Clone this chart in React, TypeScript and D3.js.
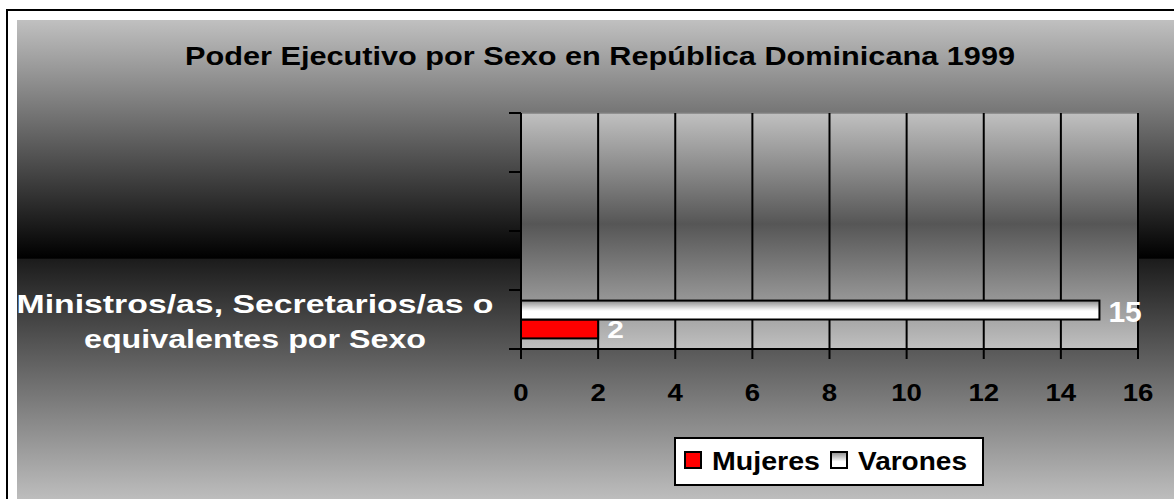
import React from "react";
import * as d3 from "d3";

const title = "Poder Ejecutivo por Sexo en República Dominicana 1999";
const categories = ["Ministros/as, Secretarios/as o equivalentes por Sexo", "c2", "c3", "c4"];
const categoryLabels = [["Ministros/as, Secretarios/as o", "equivalentes por Sexo"], [], [], []];
const seriesNames = ["Mujeres", "Varones"];
const mujeres = [2, null, null, null];
const varones = [15, null, null, null];
const xTicks = [0, 2, 4, 6, 8, 10, 12, 14, 16];

export default function App() {
  const W = 1174, H = 499;
  const plot = { left: 521, right: 1138, top: 113, bottom: 349 };
  const x = d3.scaleLinear().domain([0, 16]).range([plot.left, plot.right]);
  const y = d3.scaleBand<string>().domain([...categories].reverse()).range([plot.top, plot.bottom]);
  const inner = d3.scaleBand<string>().domain(["Varones", "Mujeres"]).range([0, y.bandwidth()]).paddingOuter(0.56).paddingInner(0);
  const font = "Arial, 'Liberation Sans', sans-serif";
  const series = [
    { name: "Mujeres", values: mujeres, fill: "#ff0000", labelSize: 23, sx: 1.3 },
    { name: "Varones", values: varones, fill: "url(#varGrad)", labelSize: 30, sx: 1.0 },
  ];
  const catWidths = [477, 342];
  return (
    <svg width={W} height={H} style={{ position: "absolute", left: 0, top: 0 }} fontFamily={font}>
      <defs>
        <linearGradient id="bgGrad" x1="0" y1="20" x2="0" y2="499" gradientUnits="userSpaceOnUse">
          <stop offset="0" stopColor="#c0c0c0" />
          <stop offset="0.497" stopColor="#000000" />
          <stop offset="0.5" stopColor="#1c1c1c" />
          <stop offset="1" stopColor="#bdbdbd" />
        </linearGradient>
        <linearGradient id="plotGrad" x1="0" y1={plot.top} x2="0" y2={plot.bottom} gradientUnits="userSpaceOnUse">
          <stop offset="0" stopColor="#c0c0c0" />
          <stop offset="0.47" stopColor="#565656" />
          <stop offset="1" stopColor="#c0c0c0" />
        </linearGradient>
        <linearGradient id="varGrad" x1="0" y1="0" x2="0" y2="1">
          <stop offset="0" stopColor="#8a8a8a" />
          <stop offset="0.55" stopColor="#ffffff" />
          <stop offset="1" stopColor="#ffffff" />
        </linearGradient>
        <linearGradient id="legGrad" x1="0" y1="0" x2="0" y2="1">
          <stop offset="0" stopColor="#8a8a8a" />
          <stop offset="0.6" stopColor="#ffffff" />
          <stop offset="1" stopColor="#ffffff" />
        </linearGradient>
      </defs>
      <rect x={0} y={0} width={W} height={H} fill="#ffffff" />
      <rect x={7} y={10} width={W + 20} height={H + 20} fill="none" stroke="#000" strokeWidth={2} />
      <rect x={17} y={20} width={W} height={H} fill="url(#bgGrad)" />
      <text x={185} y={56} dominantBaseline="central" fontSize={25} fontWeight="bold" fill="#000" textLength={830} lengthAdjust="spacingAndGlyphs">{title}</text>
      <rect x={plot.left} y={plot.top} width={plot.right - plot.left} height={plot.bottom - plot.top} fill="url(#plotGrad)" stroke="#808080" strokeWidth={1.5} />
      {xTicks.slice(1).map((t) => (
        <line key={"g" + t} x1={x(t)} x2={x(t)} y1={plot.top} y2={plot.bottom} stroke="#000" strokeWidth={2} />
      ))}
      {series.map((s) =>
        categories.map((c, i) => {
          const v = s.values[i];
          if (v == null) return null;
          const by = (y(c) as number) + (inner(s.name) as number);
          const bh = inner.bandwidth();
          const lx = x(v) + 9;
          const ly = by + bh / 2 + 1;
          return (
            <g key={s.name + i}>
              <rect x={x(0)} y={by} width={x(v) - x(0)} height={bh} fill={s.fill} stroke="#000" strokeWidth={2} />
              <text transform={`translate(${lx},${ly}) scale(${s.sx},1)`} dominantBaseline="central" fontSize={s.labelSize} fontWeight="bold" fill="#ffffff">{v}</text>
            </g>
          );
        })
      )}
      <line x1={plot.left} x2={plot.left} y1={plot.top} y2={plot.bottom} stroke="#000" strokeWidth={2} />
      {[plot.top, ...categories.map((c) => (y(c) as number) + y.bandwidth())].map((ty, i) => (
        <line key={"yt" + i} x1={plot.left - 12} x2={plot.left} y1={ty} y2={ty} stroke="#000" strokeWidth={2} />
      ))}
      {categories.map((c, i) => {
        const lines = categoryLabels[i];
        const cy = (y(c) as number) + y.bandwidth() / 2;
        return lines.map((l, j) => (
          <text key={"cl" + i + j} x={255 - catWidths[j] / 2} y={cy + (j - (lines.length - 1) / 2) * 35 + 2} dominantBaseline="central" fontSize={25} fontWeight="bold" fill="#ffffff" textLength={catWidths[j]} lengthAdjust="spacingAndGlyphs">{l}</text>
        ));
      })}
      <line x1={plot.left} x2={plot.right} y1={plot.bottom} y2={plot.bottom} stroke="#000" strokeWidth={2} />
      {xTicks.map((t) => (
        <g key={"xt" + t}>
          <line x1={x(t)} x2={x(t)} y1={plot.bottom} y2={plot.bottom + 10} stroke="#000" strokeWidth={2} />
          <text transform={`translate(${x(t)},393) scale(1.2,1)`} textAnchor="middle" dominantBaseline="central" fontSize={23} fontWeight="bold" fill="#000">{t}</text>
        </g>
      ))}
      <rect x={675} y={438} width={308} height={47} fill="#ffffff" stroke="#000" strokeWidth={2} />
      {seriesNames.map((n, i) => {
        const lx = [685, 831][i];
        const tw = [108, 109][i];
        return (
          <g key={"lg" + n}>
            <rect x={lx} y={452} width={16} height={16} fill={n === "Mujeres" ? "#ff0000" : "url(#legGrad)"} stroke="#000" strokeWidth={2} />
            <text x={lx + 27} y={461} dominantBaseline="central" fontSize={26} fontWeight="bold" fill="#000" textLength={tw} lengthAdjust="spacingAndGlyphs">{n}</text>
          </g>
        );
      })}
    </svg>
  );
}
